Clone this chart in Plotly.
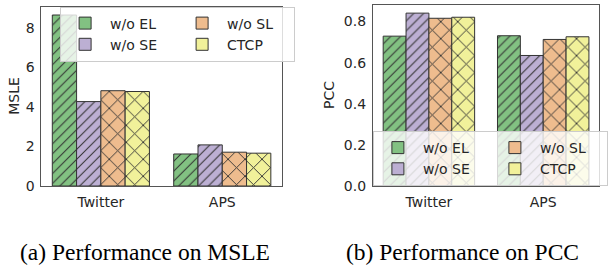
import plotly.graph_objects as go

categories = ["Twitter", "APS"]
methods = ["w/o EL", "w/o SE", "w/o SL", "CTCP"]
msle_el = [8.65, 1.62]
msle_se = [4.27, 2.08]
msle_sl = [4.82, 1.71]
msle_ctcp = [4.78, 1.66]
pcc_el = [0.729, 0.731]
pcc_se = [0.841, 0.635]
pcc_sl = [0.816, 0.713]
pcc_ctcp = [0.821, 0.726]
msle_ticks = [0, 2, 4, 6, 8]
pcc_ticks = [0.0, 0.2, 0.4, 0.6, 0.8]

colors = ["#82c182", "#bcafd3", "#eebc8e", "#f1f19a"]
shapes = ["/", "/", "x", "x"]
psizes = [7, 7, 12, 12]
groups = ["c1", "c1", "c2", "c2"]

W, H = 608, 266
fig = go.Figure()

x_pos = list(range(len(categories)))
bar_w = 0.2

def add_panel(values, xa, ya, legend_name):
    for i, (m, v) in enumerate(zip(methods, values)):
        fig.add_trace(go.Bar(
            x=x_pos, y=v, xaxis=xa, yaxis=ya,
            width=bar_w, offset=-0.4 + bar_w * i,
            marker=dict(color=colors[i], line=dict(color="#333333", width=1),
                        pattern=dict(shape=shapes[i], fgcolor="#333333", bgcolor=colors[i],
                                     size=psizes[i], solidity=0.15, fillmode="replace")),
            showlegend=False, hoverinfo="skip"))
    # legend entries (solid patches, as in the reference)
    for i, m in enumerate(methods):
        fig.add_trace(go.Bar(
            x=[None], y=[None], xaxis=xa, yaxis=ya, name=m,
            marker=dict(color=colors[i], line=dict(color="#333333", width=1)),
            legend=legend_name, legendgroup=legend_name + groups[i], showlegend=True))

add_panel([msle_el, msle_se, msle_sl, msle_ctcp], "x", "y", "legend")
add_panel([pcc_el, pcc_se, pcc_sl, pcc_ctcp], "x2", "y2", "legend2")

font = dict(family="DejaVu Sans", size=14, color="#262626")
axcommon = dict(showgrid=False, zeroline=False, showline=True, linecolor="#555555",
                linewidth=1, mirror=True, automargin=False, ticks="outside",
                ticklen=3, tickcolor="rgba(0,0,0,0)", tickfont=font)

legcommon = dict(orientation="h", traceorder="grouped", itemwidth=40, entrywidth=62,
                 bgcolor="rgba(255,255,255,0.8)", bordercolor="#cccccc", borderwidth=1,
                 font=font)

fig.update_layout(
    width=W, height=H, margin=dict(l=0, r=0, t=0, b=0),
    template="none", plot_bgcolor="white", paper_bgcolor="white",
    barmode="overlay", font=font,
    xaxis=dict(domain=[42 / W, 286 / W], range=[-0.49, 1.49],
               tickvals=x_pos, ticktext=categories, anchor="y", **axcommon),
    yaxis=dict(domain=[1 - 186 / H, 1 - 6.5 / H], range=[0, 9.08],
               tickvals=msle_ticks, anchor="x", **axcommon),
    xaxis2=dict(domain=[378.5 / W, 1.0], range=[-0.49, 1.488],
                tickvals=x_pos, ticktext=categories, anchor="y2", **axcommon),
    yaxis2=dict(domain=[1 - 186 / H, 1 - 4.7 / H], range=[0, 0.882],
                tickvals=pcc_ticks, tickformat=".1f", anchor="x2", **axcommon),
    legend=dict(x=61 / W, y=1 - 6.5 / H, xanchor="left", yanchor="top", **legcommon),
    legend2=dict(x=378.5 / W, y=1 - 186 / H, xanchor="left", yanchor="bottom", **legcommon),
)

# axis titles
fig.add_annotation(text="MSLE", x=14 / W, y=1 - 96 / H, xref="paper", yref="paper",
                   showarrow=False, textangle=-90, font=font,
                   xanchor="center", yanchor="middle")
fig.add_annotation(text="PCC", x=334 / W, y=1 - 95 / H, xref="paper", yref="paper",
                   showarrow=False, textangle=-90, font=font,
                   xanchor="center", yanchor="middle")

cap_font = dict(family="Liberation Serif", size=23.5, color="black")
fig.add_annotation(text="(a) Performance on MSLE", x=147 / W, y=1 - 252 / H,
                   xref="paper", yref="paper", showarrow=False, font=cap_font,
                   xanchor="center", yanchor="middle")
fig.add_annotation(text="(b) Performance on PCC", x=469 / W, y=1 - 252 / H,
                   xref="paper", yref="paper", showarrow=False, font=cap_font,
                   xanchor="center", yanchor="middle")

fig.write_html("out.html", config={"displayModeBar": False},
               post_script="document.body.style.margin='0';document.body.style.overflow='hidden';")
